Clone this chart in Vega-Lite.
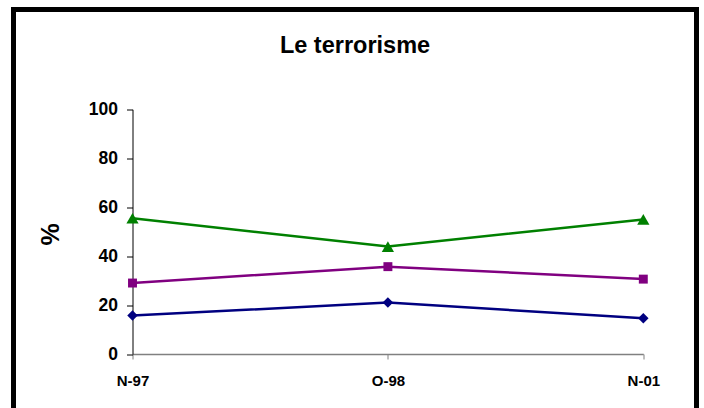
{
  "$schema": "https://vega.github.io/schema/vega-lite/v6.json",
  "width": 683,
  "height": 401,
  "autosize": {"type": "none"},
  "padding": {"left": 13.5, "top": 9.5, "right": 7.5, "bottom": -2.5},
  "background": "white",
  "config": {
    "view": {"stroke": "black", "strokeWidth": 5, "fill": "white"},
    "font": "Liberation Sans"
  },
  "title": {
    "text": "Le terrorisme",
    "font": "Liberation Sans",
    "fontSize": 23.5,
    "fontWeight": "bold",
    "color": "black",
    "anchor": "middle",
    "frame": "group",
    "baseline": "alphabetic",
    "offset": -67
  },
  "data": {
    "values": [
      {"period": "N-97", "series": "Série 1", "value": 15.7},
      {"period": "O-98", "series": "Série 1", "value": 21.0},
      {"period": "N-01", "series": "Série 1", "value": 14.6},
      {"period": "N-97", "series": "Série 2", "value": 29.0},
      {"period": "O-98", "series": "Série 2", "value": 35.7},
      {"period": "N-01", "series": "Série 2", "value": 30.6},
      {"period": "N-97", "series": "Série 3", "value": 55.5},
      {"period": "O-98", "series": "Série 3", "value": 43.9},
      {"period": "N-01", "series": "Série 3", "value": 55.0}
    ]
  },
  "encoding": {
    "x": {
      "field": "period",
      "type": "ordinal",
      "sort": ["N-97", "O-98", "N-01"],
      "scale": {"type": "point", "range": [119, 629.8], "padding": 0},
      "axis": {
        "orient": "bottom",
        "offset": -56.5,
        "title": null,
        "labelAngle": 0,
        "labelFont": "Liberation Sans",
        "labelFontSize": 15,
        "labelFontWeight": "bold",
        "labelColor": "black",
        "labelPadding": 14,
        "tickSize": 5,
        "tickColor": "#808080",
        "domainColor": "#808080",
        "domainWidth": 1.5,
        "grid": false
      }
    },
    "y": {
      "field": "value",
      "type": "quantitative",
      "scale": {"domain": [0, 100], "range": [344.5, 99.8], "nice": false, "zero": true},
      "axis": {
        "orient": "left",
        "offset": -119,
        "values": [0, 20, 40, 60, 80, 100],
        "grid": false,
        "labelFont": "Liberation Sans",
        "labelFontSize": 17.5,
        "labelFontWeight": "bold",
        "labelColor": "black",
        "labelPadding": 9,
        "tickSize": 6,
        "tickColor": "black",
        "domainColor": "black",
        "title": "%",
        "titleFont": "Liberation Sans",
        "titleFontSize": 25,
        "titleFontWeight": "bold",
        "titleColor": "black",
        "titleAngle": 270,
        "titleAlign": "center",
        "titleBaseline": "middle",
        "titleX": -82.5,
        "titleY": 224.5
      }
    },
    "color": {
      "field": "series",
      "type": "nominal",
      "scale": {"domain": ["Série 1", "Série 2", "Série 3"], "range": ["#000080", "#800080", "#008000"]},
      "legend": null
    }
  },
  "layer": [
    {
      "mark": {"type": "line", "strokeWidth": 2.5}
    },
    {
      "transform": [{"filter": "datum.series === 'Série 1'"}],
      "mark": {"type": "point", "filled": true, "opacity": 1, "shape": "diamond", "size": 110}
    },
    {
      "transform": [{"filter": "datum.series === 'Série 2'"}],
      "mark": {"type": "point", "filled": true, "opacity": 1, "shape": "square", "size": 80}
    },
    {
      "transform": [{"filter": "datum.series === 'Série 3'"}],
      "mark": {"type": "point", "filled": true, "opacity": 1, "shape": "triangle-up", "size": 150}
    }
  ]
}
